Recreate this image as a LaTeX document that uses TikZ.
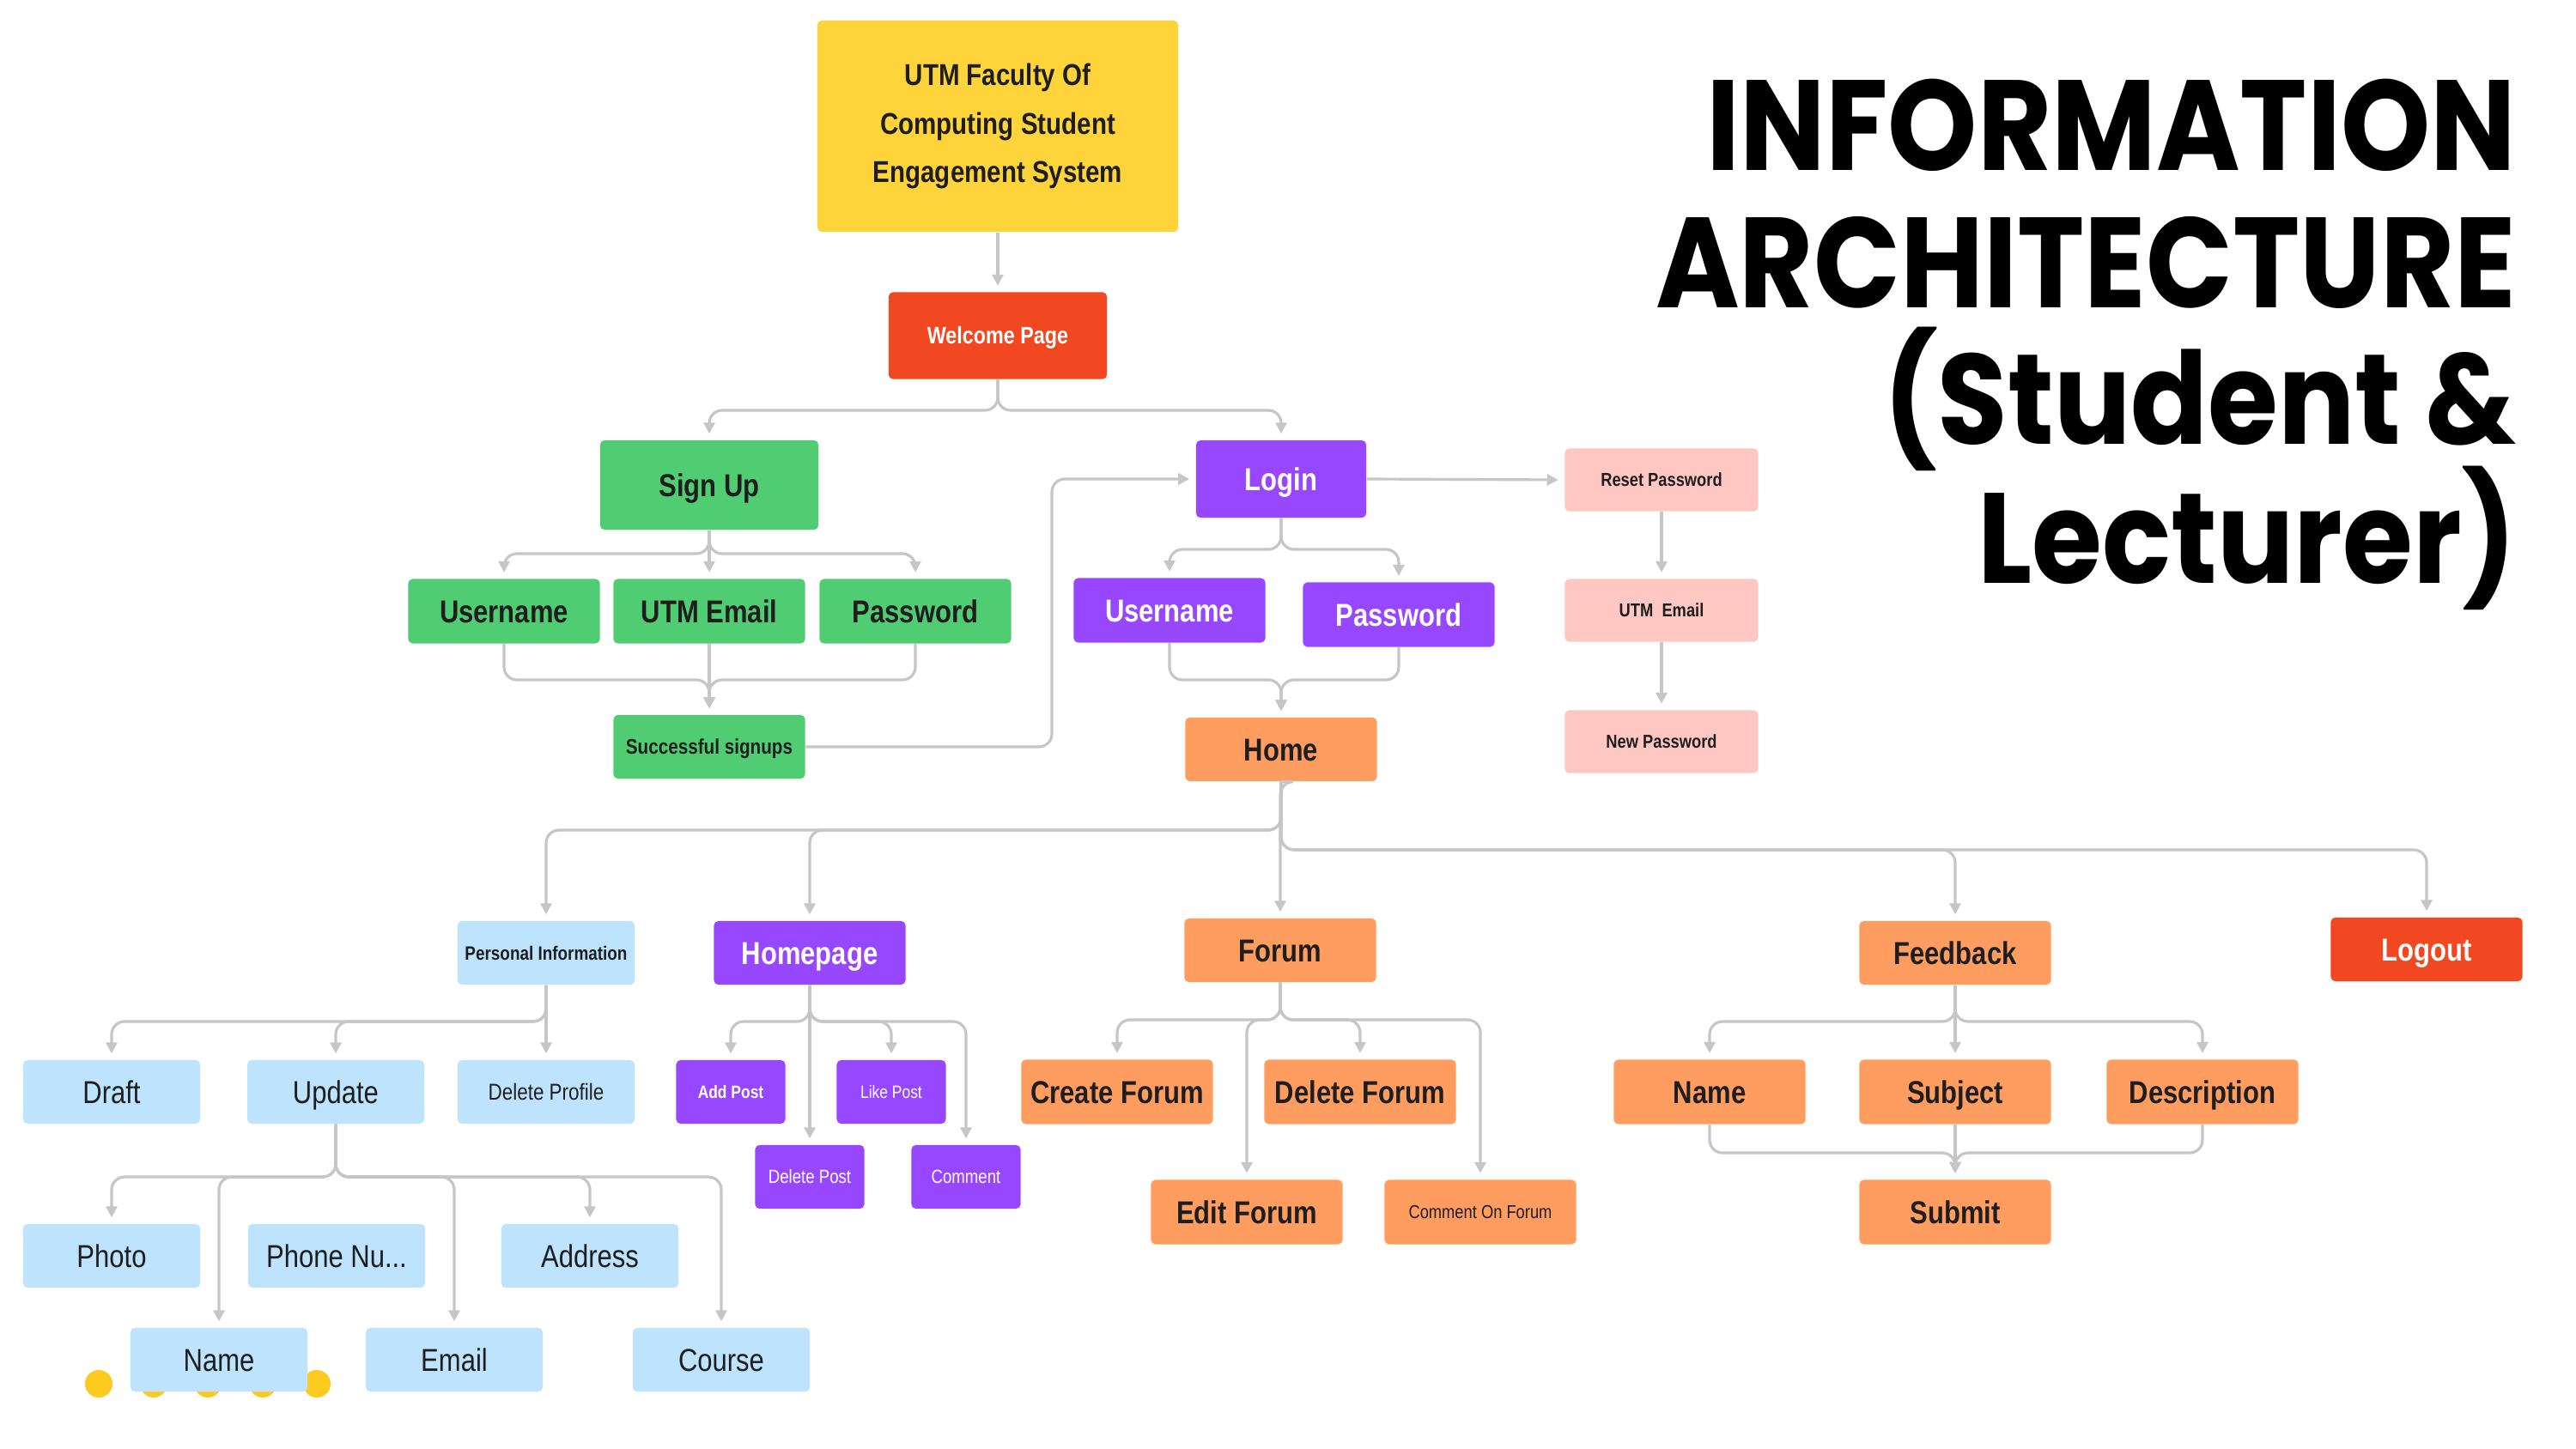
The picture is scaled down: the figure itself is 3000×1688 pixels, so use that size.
\documentclass[tikz,border=0pt]{standalone}
\usepackage{fontspec}
\setmainfont{Liberation Sans}[FakeStretch=0.84]
\newfontfamily\ttlfont{Poppins}[FakeStretch=0.887]
\usetikzlibrary{arrows.meta}
\definecolor{cyel}{HTML}{FFD43A}
\definecolor{cred}{HTML}{F24822}
\definecolor{cgreen}{HTML}{50CD73}
\definecolor{cpurp}{HTML}{9747FF}
\definecolor{cpink}{HTML}{FFC7C2}
\definecolor{corange}{HTML}{FF9D60}
\definecolor{cblue}{HTML}{BDE3FF}
\definecolor{cline}{HTML}{C6C6C6}
\definecolor{cink}{HTML}{1E1E1E}
\definecolor{cdot}{HTML}{FDCA1F}
\newcommand\szBig{\fontsize{10.5}{12}\selectfont}
\begin{document}
\begin{tikzpicture}[x=0.01cm,y=-0.01cm,
  box/.style={rectangle, rounded corners=0.05cm, inner sep=0pt, align=center,
     minimum width=2.23cm, minimum height=0.74cm, text=cink, font=\szBig\bfseries,
     text height=7.5pt, text depth=0pt},
  fs/.style={font=\fontsize{#1}{#1}\selectfont, text height={0.716*#1 pt}},
  fsb/.style={font=\fontsize{#1}{#1}\selectfont\bfseries, text height={0.716*#1 pt}},
  narrowbox/.style={box, minimum width=2.06cm},
  tinybox/.style={box, minimum width=1.27cm},
  green/.style={fill=cgreen},
  purp/.style={fill=cpurp, text=white},
  pink/.style={fill=cpink, fsb=6.2},
  orange/.style={fill=corange},
  blue/.style={fill=cblue, font=\szBig},
  redbox/.style={fill=cred, text=white},
  conn/.style={draw=cline, line width=0.9pt, rounded corners=0.15cm,
     -{Triangle[length=0.13cm,width=0.13cm]}, shorten >=0.07cm},
  ttl/.style={font=\ttlfont\bfseries\fontsize{42.5}{45}\selectfont, inner sep=0pt, text=black}
]
\useasboundingbox (0,0) rectangle (3000,1688);
\fill[white] (0,0) rectangle (3000,1688);

% title
\node[ttl, anchor=base east] (t1) at (2931,199) {INFORMATION};
\node[ttl, anchor=base east] (t2) at (2931,358) {ARCHITECTURE};
\node[ttl, anchor=base east] (t3) at (2931,517) {(Student \&};
\node[ttl, anchor=base east] (t4) at (2931,679) {Lecturer)};

% yellow dots (behind the Name box)
\foreach \i/\xx in {1/115,2/179,3/242,4/306,5/369}
  \fill[cdot] (\xx,1612) circle[radius=0.16cm];

% top
\node[box, fill=cyel, minimum width=4.2cm, minimum height=2.46cm,
      font=\fontsize{10}{16}\selectfont\bfseries, text height=, text depth=] (utm) at (1162,147)
      {UTM Faculty Of\\Computing Student\\Engagement System};
\node[box, redbox, minimum width=2.54cm, minimum height=1.01cm, fsb=7.9] (welcome) at (1162,391) {Welcome Page};

% sign up branch
\node[box, green, minimum width=2.54cm, minimum height=1.04cm] (signup) at (826,565) {Sign Up};
\node[box, green, minimum height=0.75cm] (uname1) at (587,712) {Username};
\node[box, green, minimum height=0.75cm] (uemail1) at (826,712) {UTM Email};
\node[box, green, minimum height=0.75cm] (pass1) at (1066,712) {Password};
\node[box, green, fsb=7] (succ) at (826,870) {Successful signups};

% login branch
\node[box, purp, minimum width=1.98cm, minimum height=0.9cm] (login) at (1492,558) {Login};
\node[box, purp, minimum height=0.75cm] (uname2) at (1362,711) {Username};
\node[box, purp, minimum height=0.75cm] (pass2) at (1629,716) {Password};
\node[box, orange] (home) at (1492,873) {Home};

% reset branch
\node[box, pink, minimum width=2.25cm, minimum height=0.73cm] (reset) at (1935,559) {Reset Password};
\node[box, pink, minimum width=2.25cm, minimum height=0.73cm] (uemail2) at (1935,711) {UTM\ \ Email};
\node[box, pink, minimum width=2.25cm, minimum height=0.73cm] (newpass) at (1935,864) {New Password};

% level under home
\node[narrowbox, blue, fsb=6.4] (pi) at (636,1110) {Personal Information};
\node[box, purp] (hpage) at (943,1110) {Homepage};
\node[box, orange] (forum) at (1491,1107) {Forum};
\node[box, orange] (feedback) at (2277,1110) {Feedback};
\node[box, redbox] (logout) at (2826,1106) {Logout};

% personal information subtree
\node[narrowbox, blue] (draft) at (130,1272) {Draft};
\node[narrowbox, blue] (update) at (391,1272) {Update};
\node[narrowbox, blue, fs=7.6] (dprof) at (636,1272) {Delete Profile};
\node[narrowbox, blue] (photo) at (130,1463) {Photo};
\node[narrowbox, blue] (phone) at (392,1463) {Phone Nu...};
\node[narrowbox, blue] (address) at (687,1463) {Address};
\node[narrowbox, blue] (pname) at (255,1584) {Name};
\node[narrowbox, blue] (pemail) at (529,1584) {Email};
\node[narrowbox, blue] (course) at (840,1584) {Course};

% homepage subtree
\node[tinybox, purp, fsb=5.9] (addp) at (851,1272) {Add Post};
\node[tinybox, purp, fs=5.9] (likep) at (1038,1272) {Like Post};
\node[tinybox, purp, fs=6.3] (delp) at (943,1371) {Delete Post};
\node[tinybox, purp, fs=6.3] (comm) at (1125,1371) {Comment};

% forum subtree
\node[box, orange, minimum height=0.75cm] (cforum) at (1301,1272) {Create Forum};
\node[box, orange, minimum height=0.75cm] (dforum) at (1584,1272) {Delete Forum};
\node[box, orange, minimum height=0.75cm] (eforum) at (1452,1412) {Edit Forum};
\node[box, orange, minimum height=0.75cm, fs=6.2] (coforum) at (1724,1412) {Comment On Forum};

% feedback subtree
\node[box, orange, minimum height=0.75cm] (fname) at (1991,1272) {Name};
\node[box, orange, minimum height=0.75cm] (fsubj) at (2277,1272) {Subject};
\node[box, orange, minimum height=0.75cm] (fdesc) at (2565,1272) {Description};
\node[box, orange, minimum height=0.75cm] (submit) at (2277,1412) {Submit};

% ---------------- connectors ----------------
\draw[conn] (utm.south) -- (welcome.north);
\draw[conn] (welcome.south) -- (welcome.south |- 0,478) -- (signup.north |- 0,478) -- (signup.north);
\draw[conn] (welcome.south) -- (welcome.south |- 0,478) -- (login.north |- 0,478) -- (login.north);

\foreach \c in {uname1,uemail1,pass1}{
  \draw[conn] (signup.south) -- (signup.south |- 0,645) -- (\c.north |- 0,645) -- (\c.north);
  \draw[conn] (\c.south) -- (\c.south |- 0,792) -- (succ.north |- 0,792) -- (succ.north);
}
\draw[conn] (succ.east) -- (1225,870) -- (1225,558) -- (login.west);
\draw[conn] (login.east) -- (reset.west);
\draw[conn] (reset.south) -- (uemail2.north);
\draw[conn] (uemail2.south) -- (newpass.north);

\foreach \c in {uname2,pass2}{
  \draw[conn] (login.south) -- (login.south |- 0,640) -- (\c.north |- 0,640) -- (\c.north);
  \draw[conn] (\c.south) -- (\c.south |- 0,792) -- (home.north |- 0,792) -- (home.north);
}

% home
\foreach \c in {pi,hpage}
  \draw[conn] (home.south) -- (home.south |- 0,967) -- (\c.north |- 0,967) -- (\c.north);
\draw[conn] (home.south) -- (home.south -| forum.north) -- (forum.north);
\foreach \c in {feedback,logout}
  \draw[conn] (home.south) -- (home.south |- 0,990) -- (\c.north |- 0,990) -- (\c.north);

% personal information
\foreach \c in {draft,update}
  \draw[conn] (pi.south) -- (pi.south |- 0,1190) -- (\c.north |- 0,1190) -- (\c.north);
\draw[conn] (pi.south) -- (dprof.north);

% homepage
\foreach \c in {addp,likep,comm}
  \draw[conn] (hpage.south) -- (hpage.south |- 0,1190) -- (\c.north |- 0,1190) -- (\c.north);
\draw[conn] (hpage.south) -- (delp.north);

% update
\foreach \c in {photo,pname,pemail,address,course}
  \draw[conn] (update.south) -- (update.south |- 0,1371) -- (\c.north |- 0,1371) -- (\c.north);

% forum
\foreach \c in {cforum,dforum,eforum,coforum}
  \draw[conn] (forum.south) -- (forum.south |- 0,1188) -- (\c.north |- 0,1188) -- (\c.north);

% feedback
\foreach \c in {fname,fsubj,fdesc}{
  \draw[conn] (feedback.south) -- (feedback.south |- 0,1190) -- (\c.north |- 0,1190) -- (\c.north);
  \draw[conn] (\c.south) -- (\c.south |- 0,1343) -- (submit.north |- 0,1343) -- (submit.north);
}
\end{tikzpicture}
\end{document}
